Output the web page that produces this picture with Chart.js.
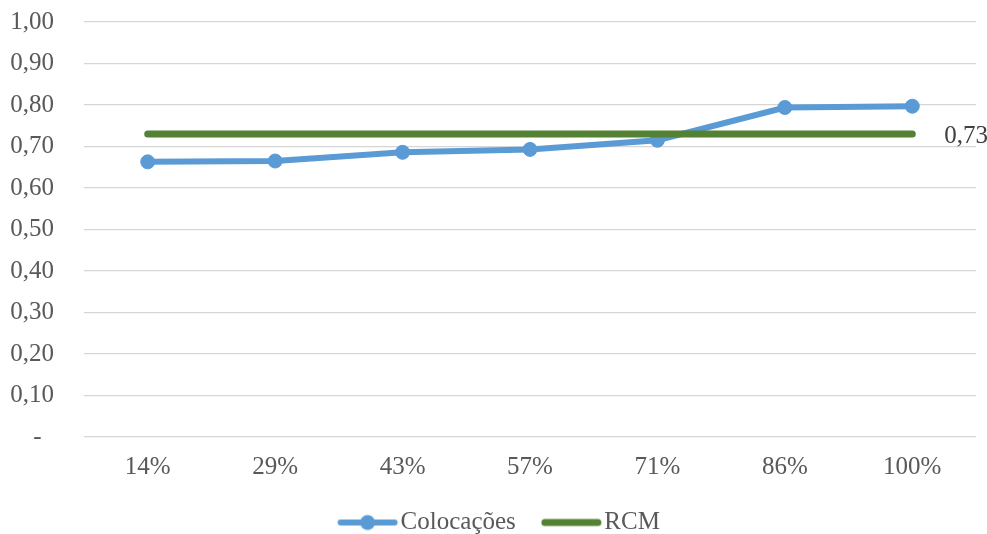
<!DOCTYPE html>
<html>
<head>
<meta charset="utf-8">
<script src="https://cdn.jsdelivr.net/npm/chart.js@4.4.0/dist/chart.umd.min.js"></script>
<style>
  html, body { margin: 0; padding: 0; background: #fff; overflow: hidden; }
  #wrap { position: relative; width: 987px; height: 545px; }
</style>
</head>
<body>
<div id="wrap"><canvas id="chart"></canvas></div>
<script>
// Data
const categories = ['14%', '29%', '43%', '57%', '71%', '86%', '100%'];
const colocacoes = [0.663, 0.665, 0.686, 0.693, 0.715, 0.794, 0.797];
const rcm = [0.73, 0.73, 0.73, 0.73, 0.73, 0.73, 0.73];
const yTicks = [0, 0.1, 0.2, 0.3, 0.4, 0.5, 0.6, 0.7, 0.8, 0.9, 1.0];

const BLUE = '#5B9BD5';
const GREEN = '#548235';
const TEXT = '#595959';
const FONT = '"Liberation Serif", "Times New Roman", serif';
const FS = 25;

Chart.defaults.font.family = FONT;
Chart.defaults.font.size = FS;
Chart.defaults.color = TEXT;

// Legend symbols drawn as small canvases
const BOX_W = 48;
const LINE_LEN = 60;
function legendSymbol(color, width, withDot) {
  const w = 72, h = 20;
  const c = document.createElement('canvas');
  c.width = w; c.height = h;
  const g = c.getContext('2d');
  const start = BOX_W / 2 - 50.5 + w / 2;
  g.strokeStyle = color;
  g.lineWidth = width;
  g.lineCap = 'round';
  g.beginPath();
  g.moveTo(start + width / 2, h / 2);
  g.lineTo(start + LINE_LEN - width / 2, h / 2);
  g.stroke();
  if (withDot) {
    g.fillStyle = color;
    g.beginPath();
    g.arc(start + LINE_LEN / 2, h / 2, 7.5, 0, Math.PI * 2);
    g.fill();
  }
  return c;
}

// Value label at the end of the RCM line
const endLabel = {
  id: 'endLabel',
  afterDatasetsDraw(chart) {
    const meta = chart.getDatasetMeta(0);
    const last = meta.data[meta.data.length - 1];
    const ctx = chart.ctx;
    ctx.save();
    ctx.font = FS + 'px ' + FONT;
    ctx.fillStyle = '#404040';
    ctx.textAlign = 'left';
    ctx.textBaseline = 'middle';
    ctx.fillText(rcm[rcm.length - 1].toFixed(2).replace('.', ','), last.x + 32, last.y + 2);
    ctx.restore();
  }
};

// Legend sits a little right of the canvas centre
const shiftLegend = {
  id: 'shiftLegend',
  afterLayout(chart) {
    chart.legend.left += 12;
    chart.legend.right += 12;
  }
};

new Chart(document.getElementById('chart'), {
  type: 'line',
  data: {
    labels: categories,
    datasets: [{
      label: 'RCM',
      data: rcm,
      borderColor: GREEN,
      backgroundColor: GREEN,
      borderWidth: 7,
      borderCapStyle: 'round',
      pointRadius: 0,
      pointHoverRadius: 0,
      order: 0
    }, {
      label: 'Colocações',
      data: colocacoes,
      borderColor: BLUE,
      backgroundColor: BLUE,
      borderWidth: 6,
      borderCapStyle: 'round',
      pointRadius: 7,
      pointBorderWidth: 1,
      pointBackgroundColor: BLUE,
      pointBorderColor: BLUE,
      order: 1
    }]
  },
  options: {
    responsive: true,
    maintainAspectRatio: false,
    animation: false,
    layout: { padding: { left: 0, right: 11, top: 22, bottom: 0 } },
    plugins: {
      tooltip: { enabled: false },
      legend: {
        position: 'bottom',
        labels: {
          usePointStyle: true,
          pointStyleWidth: BOX_W,
          padding: 28,
          color: TEXT,
          font: { size: FS, family: FONT },
          generateLabels(chart) {
            return [
              { text: 'Colocações', datasetIndex: 1, pointStyle: legendSymbol(BLUE, 6, true), fontColor: TEXT, lineWidth: 0, strokeStyle: 'transparent', fillStyle: 'transparent' },
              { text: 'RCM', datasetIndex: 0, pointStyle: legendSymbol(GREEN, 7, false), fontColor: TEXT, lineWidth: 0, strokeStyle: 'transparent', fillStyle: 'transparent' }
            ];
          }
        }
      }
    },
    scales: {
      x: {
        offset: true,
        afterFit(scale) { scale.height = 45; },
        grid: { display: false, drawTicks: false },
        border: { display: false },
        ticks: { padding: 15, color: TEXT, font: { size: FS } }
      },
      y: {
        min: 0,
        max: 1,
        afterFit(scale) {
          scale.width = 84;
          scale.paddingTop = 0;
          scale.paddingBottom = 0;
        },
        afterBuildTicks(scale) { scale.ticks = yTicks.map(v => ({ value: v })); },
        grid: { color: '#d6d6d6', lineWidth: 1.3, drawTicks: false },
        border: { display: false },
        ticks: {
          padding: 30,
          color: TEXT,
          font: { size: FS },
          callback(v) {
            return v === 0 ? '-  ' : v.toFixed(2).replace('.', ',');
          }
        }
      }
    }
  },
  plugins: [endLabel, shiftLegend]
});
</script>
</body>
</html>
